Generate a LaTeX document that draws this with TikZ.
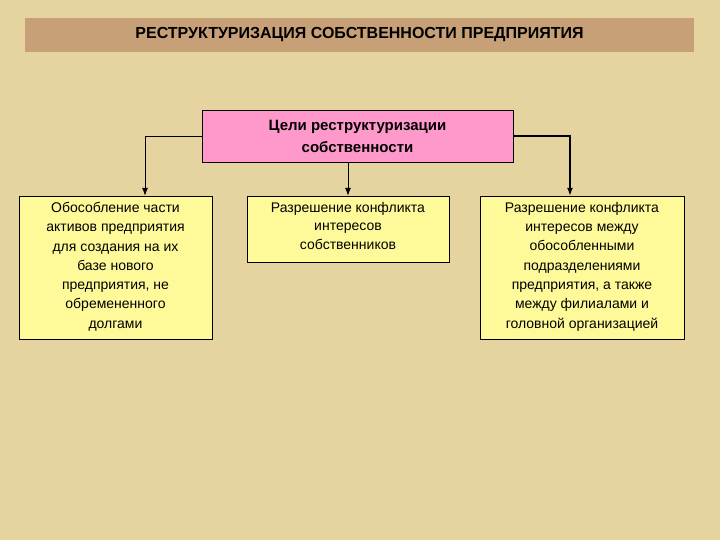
\documentclass[tikz,border=0pt]{standalone}
\usepackage{fontspec}
\setmainfont{Liberation Sans}
\usetikzlibrary{arrows.meta}
\begin{document}
\begin{tikzpicture}[x=1pt,y=-1pt,
  box/.style={draw=black,fill=yellow!40!white,inner sep=0pt},
  txt/.style={align=center,font=\fontsize{14}{19.3}\selectfont,anchor=north,inner sep=0pt},
  conn/.style={draw=black,line width=0.8pt,-{Latex[length=8pt,width=6pt]}}]
\fill[color={rgb,255:red,230;green,212;blue,160}] (0,0) rectangle (720,540);
\useasboundingbox (0,0) rectangle (720,540);
\node[fill={rgb,255:red,200;green,160;blue,120},minimum width=669pt,minimum height=34pt,inner sep=0pt,font=\fontsize{16}{18}\selectfont\bfseries] (title) at (359.5,35) {РЕСТРУКТУРИЗАЦИЯ СОБСТВЕННОСТИ ПРЕДПРИЯТИЯ};
\node[draw=black,fill={rgb,255:red,255;green,153;blue,204},minimum width=311pt,minimum height=52pt,inner sep=0pt,align=center,font=\fontsize{15}{22}\selectfont\bfseries] (goal) at (357.5,136) {Цели реструктуризации\\собственности};
\node[box,minimum width=193pt,minimum height=143pt] (left) at (115.5,267.5) {};
\node[txt] (lt) at (115.5,202) {Обособление части\\активов предприятия\\для создания на их\\базе нового\\предприятия, не\\обремененного\\долгами};
\node[box,minimum width=202pt,minimum height=66pt] (mid) at (348,229) {};
\node[txt,font=\fontsize{14}{18.5}\selectfont] (mt) at (348,202) {Разрешение конфликта\\интересов\\собственников};
\node[box,minimum width=204pt,minimum height=143pt] (right) at (582,267.5) {};
\node[txt] (rt) at (582,202) {Разрешение конфликта\\интересов между\\обособленными\\подразделениями\\предприятия, а также\\между филиалами и\\головной организацией};
\draw[conn] (goal.west) -| (left.north -| 145,0);
\draw[conn] (goal.south -| mid.north) -- (mid.north);
\draw[conn,line width=1.5pt] (goal.east) -| (right.north -| 570,0);
\end{tikzpicture}
\end{document}
